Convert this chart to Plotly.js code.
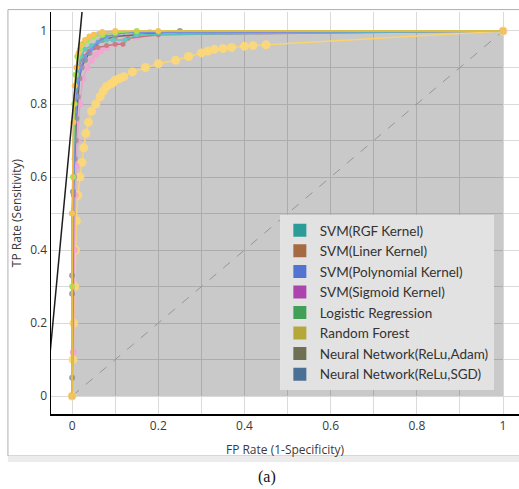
<!DOCTYPE html>
<html>
<head>
<meta charset="utf-8">
<script src="https://cdn.plot.ly/plotly-3.0.1.min.js"></script>
<style>
html,body{margin:0;padding:0;background:#fff;}
#chart{width:519px;height:489px;}
</style>
</head>
<body>
<div id="chart"></div>
<script>
// ---- legend categories and colours ----
const classifiers = ["SVM(RGF Kernel)", "SVM(Liner Kernel)", "SVM(Polynomial Kernel)", "SVM(Sigmoid Kernel)",
  "Logistic Regression", "Random Forest", "Neural Network(ReLu,Adam)", "Neural Network(ReLu,SGD)"];
const legendColors = ["#2b9c97", "#a66a42", "#5273d2", "#ad43ad", "#419f58", "#b5a83b", "#6f6f53", "#4b7096"];

// ---- ROC curves (FPR, TPR) ----
const sgdFpr = [0, 0.002, 0.004, 0.006, 0.008, 0.010, 0.013, 0.018, 0.023, 0.027, 0.032, 0.038, 0.045, 0.055, 0.065, 0.072, 0.080, 0.090, 0.095, 0.100, 0.110, 0.120, 0.140, 0.170, 0.200, 0.240, 0.270, 0.300, 0.315, 0.330, 0.350, 0.370, 0.400, 0.420, 0.450, 1];
const sgdTpr = [0, 0.10, 0.20, 0.30, 0.40, 0.48, 0.55, 0.60, 0.64, 0.68, 0.72, 0.75, 0.78, 0.80, 0.82, 0.835, 0.848, 0.855, 0.858, 0.865, 0.870, 0.875, 0.888, 0.900, 0.910, 0.920, 0.930, 0.940, 0.945, 0.950, 0.952, 0.955, 0.958, 0.960, 0.962, 1];

const sigFpr = [0, 0.003, 0.005, 0.007, 0.009, 0.012, 0.018, 0.025, 0.035, 0.045, 0.055, 0.065, 0.080, 0.100, 0.120, 0.150, 0.180, 1];
const sigTpr = [0, 0.12, 0.40, 0.55, 0.63, 0.70, 0.80, 0.87, 0.90, 0.92, 0.935, 0.945, 0.955, 0.965, 0.975, 0.985, 0.995, 1];

const adamFpr = [0, 0, 0, 0, 0, 0.002, 0.004, 0.006, 0.008, 0.010, 0.013, 0.017, 0.022, 0.030, 0.040, 0.050, 0.070, 0.100, 0.150, 0.200, 0.250, 1];
const adamTpr = [0, 0.05, 0.28, 0.33, 0.50, 0.56, 0.60, 0.65, 0.70, 0.76, 0.82, 0.87, 0.90, 0.92, 0.94, 0.955, 0.975, 0.985, 0.990, 0.995, 1, 1];

const linFpr = [0, 0.003, 0.008, 0.015, 0.025, 0.040, 0.060, 0.080, 0.100, 0.118, 0.130, 0.200, 1];
const linTpr = [0, 0.55, 0.80, 0.90, 0.93, 0.945, 0.955, 0.960, 0.964, 0.964, 0.980, 0.990, 1];

const rgfFpr = [0, 0.002, 0.006, 0.012, 0.020, 0.030, 0.045, 0.060, 0.080, 0.095, 0.123, 0.150, 1];
const rgfTpr = [0, 0.50, 0.78, 0.88, 0.93, 0.95, 0.96, 0.97, 0.975, 0.975, 0.975, 0.990, 1];

const polyFpr = [0, 0.004, 0.010, 0.020, 0.030, 0.045, 0.060, 0.080, 0.120, 1];
const polyTpr = [0, 0.60, 0.82, 0.90, 0.93, 0.95, 0.97, 0.985, 0.995, 1];

const lrFpr = [0, 0, 0.002, 0.005, 0.008, 0.012, 0.018, 0.025, 0.035, 0.050, 0.070, 0.100, 0.150, 1];
const lrTpr = [0, 0.30, 0.60, 0.80, 0.88, 0.93, 0.95, 0.965, 0.975, 0.985, 0.990, 0.995, 1, 1];

const rfFpr = [0, 0, 0.003, 0.006, 0.010, 0.015, 0.020, 0.030, 0.040, 0.050, 0.070, 0.100, 0.200, 1];
const rfTpr = [0, 0.50, 0.75, 0.85, 0.90, 0.94, 0.96, 0.975, 0.985, 0.990, 0.997, 1, 1, 1];

// ---- convex hull area, chance diagonal, iso-performance line ----
const hullFpr = [0, 0, 0.003, 0.010, 0.020, 0.040, 0.060, 1, 1, 0];
const hullTpr = [0, 0.55, 0.75, 0.90, 0.95, 0.99, 1, 1, 0, 0];
const diagFpr = [0, 1];
const diagTpr = [0, 1];
const isoFpr = [-0.06, 0.03];
const isoTpr = [0.006, 1.14];

// ---- axis ticks ----
const tickVals = [0, 0.2, 0.4, 0.6, 0.8, 1];
const tickText = ["0", "0.2", "0.4", "0.6", "0.8", "1"];

const curves = [
  {x: sgdFpr, y: sgdTpr, c: "rgb(250,212,110)", m: "rgba(253,216,118,0.9)", s: 9},
  {x: sigFpr, y: sigTpr, c: "rgb(238,160,205)", m: "rgba(242,165,210,0.9)", s: 7},
  {x: adamFpr, y: adamTpr, c: "rgb(105,105,105)", m: "rgba(150,150,150,0.9)", s: 6},
  {x: linFpr, y: linTpr, c: "rgb(195,115,120)", m: "rgb(200,125,130)", s: 5},
  {x: rgfFpr, y: rgfTpr, c: "rgb(90,195,185)", m: "rgb(100,200,190)", s: 5},
  {x: polyFpr, y: polyTpr, c: "rgb(120,140,225)", m: "rgb(130,150,230)", s: 4},
  {x: lrFpr, y: lrTpr, c: "rgb(150,225,70)", m: "rgb(160,232,85)", s: 6},
  {x: rfFpr, y: rfTpr, c: "rgb(240,185,70)", m: "rgb(245,195,90)", s: 6}
];

const traces = [];
traces.push({x: hullFpr, y: hullTpr, type: "scatter", mode: "lines", fill: "toself",
  fillcolor: "rgba(0,0,0,0.21)", line: {width: 0}, showlegend: false, hoverinfo: "skip"});
traces.push({x: diagFpr, y: diagTpr, type: "scatter", mode: "lines",
  line: {color: "rgb(150,150,150)", width: 1, dash: "dash"}, showlegend: false});
curves.forEach(cv => traces.push({x: cv.x, y: cv.y, type: "scatter", mode: "lines+markers",
  line: {color: cv.c, width: 1.5}, marker: {color: cv.m, size: cv.s}, showlegend: false}));
traces.push({x: isoFpr, y: isoTpr, type: "scatter", mode: "lines",
  line: {color: "rgb(30,30,30)", width: 1.5}, showlegend: false});
classifiers.forEach((name, i) => traces.push({x: [null], y: [null], type: "scatter", mode: "markers",
  name: name, marker: {symbol: "square", size: 13, color: legendColors[i]}, showlegend: true}));

const fontFam = "'Open Sans', 'Noto Sans', sans-serif";
const axisCommon = {
  tickvals: tickVals, ticktext: tickText, ticks: "", showgrid: true, gridcolor: "#dadada", gridwidth: 1,
  minor: {dtick: 0.1, showgrid: true, gridcolor: "#dadada", gridwidth: 1, tick0: 0},
  zeroline: false, showline: true, linecolor: "#000", linewidth: 1.5,
  tickfont: {family: fontFam, size: 12, color: "#3a3a3a"}, fixedrange: true
};

const layout = {
  width: 519, height: 489,
  margin: {l: 51, r: 0, t: 12, b: 75},
  paper_bgcolor: "#fff", plot_bgcolor: "#fff",
  showlegend: true,
  xaxis: Object.assign({}, axisCommon, {range: [-0.049, 1.037],
    title: {text: "FP Rate (1-Specificity)", font: {family: fontFam, size: 12, color: "#3a3a3a"}, standoff: 12}}),
  yaxis: Object.assign({}, axisCommon, {range: [-0.049, 1.052],
    title: {text: "TP Rate (Sensitivity)", font: {family: fontFam, size: 12, color: "#3a3a3a"}, standoff: 6}}),
  legend: {x: 0.489, y: 0.495, xanchor: "left", yanchor: "top",
    bgcolor: "rgba(228,228,228,0.95)", borderwidth: 0,
    font: {family: "Lato, 'Open Sans', sans-serif", size: 13.5, color: "#333"}, itemclick: false, itemdoubleclick: false},
  shapes: [
    {type: "rect", xref: "paper", yref: "paper", x0: -0.092, x1: 1.2, y0: -0.1045, y1: 1.006,
      line: {color: "rgb(175,175,175)", width: 1}, fillcolor: "rgba(0,0,0,0)", layer: "below"},
    {type: "rect", xref: "paper", yref: "paper", x0: -0.092, x1: 1.2, y0: -0.1195, y1: -0.1045,
      line: {width: 0}, fillcolor: "rgb(236,236,236)", layer: "below"}
  ],
  annotations: [
    {text: "(a)", xref: "paper", yref: "paper", x: 0.4615, y: -0.157, xanchor: "center", yanchor: "middle",
      showarrow: false, font: {family: "'Liberation Serif', 'Times New Roman', serif", size: 16, color: "#111"}}
  ]
};

Plotly.newPlot("chart", traces, layout, {displayModeBar: false, staticPlot: true});
</script>
</body>
</html>
